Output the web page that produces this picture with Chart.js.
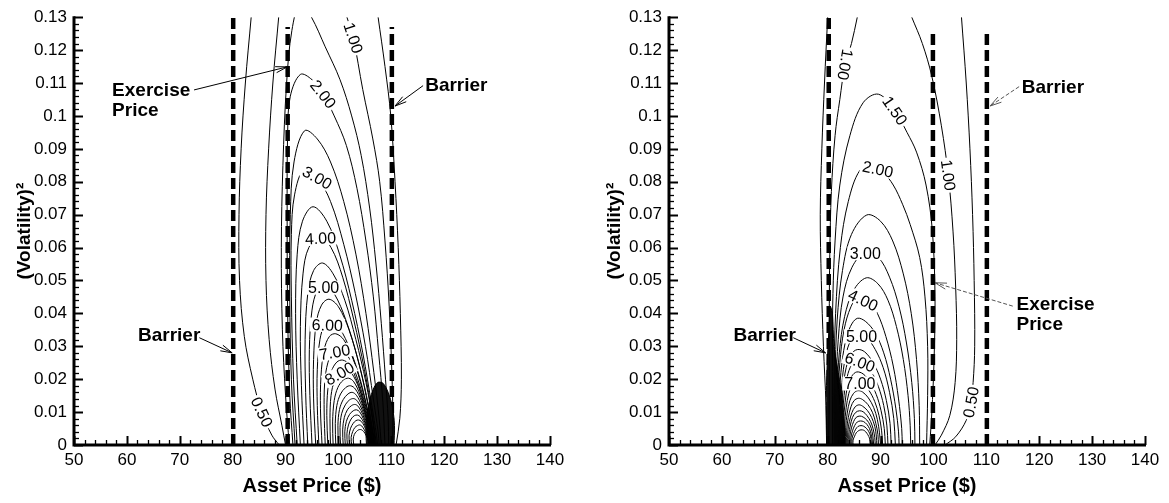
<!DOCTYPE html>
<html>
<head>
<meta charset="utf-8">
<script src="https://cdn.jsdelivr.net/npm/chart.js@4.4.0/dist/chart.umd.min.js"></script>
<style>
  html, body { margin: 0; padding: 0; background: #fff; }
  #wrap { position: relative; width: 1169px; height: 503px; }
  #left { position: absolute; left: 0; top: 0; }
  #right { position: absolute; left: 585px; top: 0; }
</style>
</head>
<body>
<div id="wrap">
  <canvas id="left" width="585" height="503"></canvas>
  <canvas id="right" width="584" height="503"></canvas>
</div>
<script>
// ---- axes ----
const xTickValues = [50, 60, 70, 80, 90, 100, 110, 120, 130, 140];
const yTickValues = [0, 0.01, 0.02, 0.03, 0.04, 0.05, 0.06, 0.07, 0.08, 0.09, 0.1, 0.11, 0.12, 0.13];

// ---- left panel: contour lines [asset price, volatility^2] ----
const L050a = [[83.5,0.130],[82.4,0.110],[81.6,0.090],[81.2,0.070],[81.3,0.050],[82.2,0.033],[83.8,0.020],[85.5,0.010],[87.4,0.003],[88.8,0]];
const L050b = [[107.5,0.130],[108.8,0.115],[109.9,0.100],[110.7,0.080],[111.3,0.060],[111.7,0.040],[111.9,0.020],[111.6,0.008],[110.9,0]];
const L100a = [[88.7,0.130],[87.6,0.110],[86.8,0.090],[86.3,0.070],[86.3,0.050],[86.9,0.032],[88.0,0.017],[89.3,0.006],[90.0,0]];
const L100b = [[101.6,0.130],[102.8,0.1237],[104.6,0.108],[106.5,0.093],[107.8,0.080],[108.8,0.062],[109.6,0.042],[110.1,0.022],[110.3,0.008],[110.2,0]];
const L150 = [[90.7,0],[90.0,0.015],[89.4,0.035],[89.2,0.060],[89.5,0.085],[90.2,0.110],[91.2,0.126],[92.8,0.1345],[94.9,0.130],[97.5,0.121],[100.3,0.111],[102.5,0.100],[104.3,0.088],[105.9,0.072],[107.1,0.055],[108.1,0.037],[108.9,0.020],[109.4,0.008],[109.5,0]];
const L200 = [[91.4,0],[90.8,0.015],[90.4,0.040],[90.3,0.070],[90.4,0.095],[90.9,0.106],[92.8,0.1126],[95.0,0.111],[97.1,0.1066],[99.2,0.100],[101.5,0.091],[103.5,0.078],[105.2,0.062],[106.6,0.045],[107.6,0.028],[108.4,0.013],[108.8,0]];
const L250 = [[91.8,0],[91.1,0.020],[90.8,0.045],[90.9,0.070],[91.6,0.086],[93.6,0.0955],[96.0,0.093],[98.5,0.086],[101.0,0.074],[103.3,0.058],[105.2,0.040],[106.7,0.022],[107.7,0.008],[108.1,0]];
const L300 = [[92.2,0],[91.5,0.020],[91.1,0.045],[91.1,0.064],[91.7,0.076],[93.5,0.0838],[96.0,0.0812],[98.5,0.074],[101.0,0.061],[103.2,0.046],[105.1,0.030],[106.6,0.014],[107.5,0.004],[107.7,0]];
const L350 = [[92.8,0],[92.2,0.020],[91.9,0.040],[92.2,0.058],[93.2,0.068],[95.2,0.0724],[97.8,0.068],[100.2,0.058],[102.5,0.044],[104.6,0.028],[106.3,0.012],[107.2,0.003],[107.4,0]];
const L400 = [[93.5,0],[93.0,0.018],[92.8,0.036],[93.3,0.052],[94.4,0.060],[96.6,0.0630],[98.6,0.060],[100.8,0.051],[102.9,0.038],[104.9,0.023],[106.4,0.009],[107.2,0]];
const L450 = [[94.2,0],[93.8,0.016],[93.7,0.032],[94.2,0.046],[95.3,0.053],[97.0,0.0553],[99.0,0.052],[101.2,0.044],[103.3,0.032],[105.2,0.019],[106.5,0.007],[107.0,0]];
const L500 = [[95.0,0],[94.6,0.015],[94.5,0.029],[95.0,0.041],[96.0,0.047],[97.4,0.0487],[99.2,0.046],[101.4,0.038],[103.5,0.027],[105.3,0.015],[106.4,0.005],[106.9,0]];
const L550 = [[95.7,0],[95.3,0.014],[95.3,0.026],[95.8,0.037],[96.8,0.0425],[98.2,0.0443],[100.0,0.042],[102.0,0.035],[104.0,0.024],[105.6,0.012],[106.5,0.004],[106.8,0]];
const L600 = [[96.3,0],[96.0,0.012],[96.0,0.023],[96.5,0.032],[97.4,0.0365],[98.6,0.0375],[100.2,0.0355],[102.2,0.029],[104.1,0.020],[105.6,0.010],[106.5,0.003],[106.7,0]];
const L650 = [[96.9,0],[96.6,0.011],[96.7,0.021],[97.3,0.029],[98.3,0.033],[99.5,0.0338],[101.0,0.032],[102.8,0.026],[104.5,0.017],[105.8,0.008],[106.6,0]];
const L700 = [[97.5,0],[97.3,0.010],[97.4,0.019],[98.0,0.025],[99.0,0.0283],[100.2,0.0290],[101.6,0.0275],[103.2,0.022],[104.7,0.0145],[105.9,0.0065],[106.5,0]];
const L750 = [[98.0,0],[97.8,0.009],[98.0,0.017],[98.7,0.0225],[99.7,0.0252],[100.8,0.0258],[102.0,0.0245],[103.5,0.0195],[104.9,0.0125],[105.9,0.0055],[106.4,0]];
const L800 = [[98.5,0],[98.4,0.008],[98.6,0.015],[99.3,0.0198],[100.3,0.0222],[101.4,0.0230],[102.5,0.0218],[103.9,0.0172],[105.0,0.0110],[105.9,0.0048],[106.3,0]];
const L850 = [[99.0,0],[98.9,0.007],[99.2,0.0135],[99.9,0.0175],[100.9,0.0197],[101.9,0.0203],[102.9,0.0192],[104.1,0.0152],[105.1,0.0098],[105.9,0.0042],[106.2,0]];
const L900 = [[99.5,0],[99.4,0.0065],[99.7,0.012],[100.4,0.0155],[101.4,0.0175],[102.3,0.0180],[103.2,0.0170],[104.3,0.0135],[105.2,0.0087],[105.9,0.0037],[106.2,0]];
const L950 = [[100.0,0],[99.9,0.006],[100.2,0.0108],[100.9,0.0138],[101.8,0.0155],[102.6,0.0160],[103.4,0.0151],[104.4,0.012],[105.3,0.0077],[105.9,0.0033],[106.1,0]];
const L1000 = [[100.4,0],[100.3,0.0053],[100.6,0.0095],[101.3,0.0122],[102.1,0.0137],[102.9,0.0141],[103.6,0.0133],[104.5,0.0106],[105.3,0.0068],[105.9,0.0029],[106.1,0]];
const L1050 = [[100.9,0],[100.8,0.0046],[101.1,0.0083],[101.7,0.0107],[102.5,0.0120],[103.2,0.0123],[103.8,0.0116],[104.6,0.0093],[105.3,0.0059],[105.9,0.0025],[106.0,0]];
const L1100 = [[101.3,0],[101.2,0.0040],[101.5,0.0072],[102.1,0.0093],[102.8,0.0104],[103.4,0.0107],[104.0,0.0101],[104.7,0.0080],[105.4,0.0051],[105.9,0.0021],[106.0,0]];
const L1150 = [[101.7,0],[101.6,0.0034],[101.9,0.0061],[102.4,0.0079],[103.0,0.0089],[103.6,0.0091],[104.1,0.0086],[104.8,0.0068],[105.4,0.0043],[105.8,0.0018],[105.9,0]];
const L1200 = [[102.1,0],[102.0,0.0028],[102.3,0.0051],[102.8,0.0066],[103.3,0.0074],[103.8,0.0076],[104.3,0.0072],[104.9,0.0057],[105.4,0.0036],[105.8,0.0015],[105.9,0]];
const L1250 = [[102.5,0],[102.4,0.0023],[102.7,0.0041],[103.1,0.0053],[103.6,0.0059],[104.0,0.0061],[104.4,0.0058],[104.9,0.0046],[105.4,0.0029],[105.7,0.0012],[105.8,0]];
const L1300 = [[102.9,0],[102.8,0.0018],[103.0,0.0032],[103.4,0.0041],[103.8,0.0046],[104.2,0.0047],[104.5,0.0045],[105.0,0.0036],[105.4,0.0022],[105.7,0.0009],[105.8,0]];
// densely packed contours near the upper barrier
const LDense = [[105.3,0],[105.2,0.004],[105.4,0.009],[105.9,0.0135],[106.6,0.017],[107.4,0.019],[108.4,0.0188],[109.4,0.016],[110.2,0.0115],[110.6,0.006],[110.5,0]];

const leftDashX = [80.1, 90.4, 110.1];
const leftDashTop = [0.13, 0.127, 0.127];

const leftLabelText = ['0.50', '1.00', '2.00', '3.00', '4.00', '5.00', '6.00', '7.00', '8.00'];
const leftLabelX = [85.5, 102.8, 97.1, 96.0, 96.6, 97.2, 97.9, 99.3, 100.2];
const leftLabelY = [0.010, 0.1237, 0.1066, 0.0812, 0.0628, 0.0478, 0.0364, 0.0282, 0.0217];

// ---- right panel ----
const R050a = [[80.0,0.130],[79.4,0.110],[78.9,0.090],[78.6,0.070],[78.8,0.050],[79.2,0.030],[79.7,0.012],[79.9,0]];
const R050b = [[105.3,0.130],[106.2,0.110],[106.9,0.090],[107.4,0.070],[107.7,0.050],[107.8,0.030],[107.5,0.019],[107.0,0.0125],[106.2,0.0075],[104.2,0.0025],[102.2,0]];
const R100a = [[85.6,0.130],[84.5,0.122],[83.3,0.1156],[82.3,0.105],[81.4,0.094],[80.7,0.077],[80.4,0.058],[80.3,0.038],[80.3,0.018],[80.2,0]];
const R100b = [[95.9,0.130],[97.9,0.122],[99.7,0.112],[101.5,0.097],[102.8,0.082],[103.7,0.065],[104.2,0.048],[104.4,0.032],[104.1,0.019],[103.1,0.009],[101.5,0.003],[100.3,0]];
const R150 = [[80.9,0],[80.9,0.030],[81.0,0.046],[81.4,0.062],[82.3,0.079],[84.2,0.094],[86.7,0.104],[89.6,0.1066],[92.7,0.1016],[95.0,0.095],[96.8,0.089],[98.6,0.079],[99.8,0.065],[100.3,0.045],[100.1,0.025],[99.7,0.010],[99.3,0]];
const R200 = [[81.2,0],[81.2,0.020],[81.5,0.040],[82.4,0.060],[83.9,0.074],[86.1,0.0835],[88.4,0.0848],[90.4,0.083],[92.4,0.079],[94.2,0.073],[95.6,0.067],[97.4,0.057],[98.4,0.045],[98.9,0.030],[98.9,0.015],[98.7,0]];
const R250 = [[81.4,0],[81.4,0.020],[81.8,0.038],[82.8,0.053],[84.5,0.064],[87.4,0.0699],[90.0,0.068],[92.3,0.062],[94.3,0.052],[95.8,0.040],[96.8,0.026],[97.3,0.012],[97.4,0]];
const R300 = [[81.6,0],[81.6,0.018],[82.0,0.032],[82.9,0.045],[84.6,0.054],[87.2,0.0588],[89.6,0.057],[91.7,0.051],[93.5,0.042],[94.9,0.031],[95.9,0.019],[96.4,0.008],[96.5,0]];
const R350 = [[81.8,0],[81.8,0.016],[82.2,0.028],[83.2,0.039],[84.9,0.047],[87.3,0.0508],[89.5,0.049],[91.4,0.044],[93.0,0.036],[94.3,0.026],[95.2,0.015],[95.6,0.006],[95.7,0]];
const R400 = [[82.0,0],[82.0,0.014],[82.3,0.025],[83.1,0.035],[84.4,0.042],[86.0,0.0455],[87.5,0.0445],[89.4,0.040],[91.0,0.033],[92.4,0.024],[93.4,0.014],[94.0,0.005],[94.1,0]];
const R450 = [[82.2,0],[82.2,0.012],[82.5,0.022],[83.3,0.031],[84.3,0.036],[85.6,0.0385],[87.2,0.0375],[89.0,0.034],[90.6,0.028],[91.9,0.020],[92.9,0.011],[93.4,0.004],[93.5,0]];
const R500 = [[82.4,0],[82.4,0.010],[82.7,0.019],[83.4,0.027],[84.4,0.0318],[85.8,0.0335],[87.3,0.0327],[89.0,0.029],[90.5,0.0235],[91.7,0.016],[92.5,0.008],[92.8,0]];
const R550 = [[82.6,0],[82.6,0.009],[82.9,0.017],[83.5,0.0235],[84.4,0.0275],[85.6,0.0290],[87.0,0.0283],[88.6,0.025],[90.0,0.020],[91.1,0.0135],[91.8,0.0065],[92.0,0]];
const R600 = [[82.8,0],[82.8,0.008],[83.1,0.015],[83.7,0.0208],[84.5,0.0243],[85.5,0.0257],[86.8,0.0250],[88.3,0.0222],[89.6,0.0177],[90.6,0.012],[91.2,0.0058],[91.4,0]];
const R650 = [[83.0,0],[83.0,0.007],[83.3,0.013],[83.8,0.018],[84.6,0.021],[85.5,0.0222],[86.7,0.0216],[88.0,0.0192],[89.2,0.0153],[90.1,0.0104],[90.7,0.005],[90.9,0]];
const R700 = [[83.2,0],[83.2,0.006],[83.5,0.0113],[84.0,0.0157],[84.7,0.0182],[85.6,0.0192],[86.6,0.0187],[87.8,0.0166],[88.9,0.0132],[89.7,0.009],[90.2,0.0043],[90.4,0]];
const R750 = [[83.4,0],[83.4,0.0052],[83.7,0.0097],[84.2,0.0135],[84.9,0.0157],[85.7,0.0165],[86.6,0.0161],[87.7,0.0143],[88.7,0.0114],[89.4,0.0077],[89.8,0.0037],[90.0,0]];
const R800 = [[83.6,0],[83.6,0.0045],[83.9,0.0083],[84.4,0.0116],[85.0,0.0135],[85.8,0.0142],[86.6,0.0138],[87.6,0.0123],[88.5,0.0098],[89.1,0.0066],[89.5,0.0032],[89.6,0]];
const R850 = [[83.8,0],[83.8,0.0039],[84.1,0.0071],[84.6,0.0099],[85.2,0.0116],[85.9,0.0122],[86.6,0.0118],[87.5,0.0105],[88.3,0.0084],[88.9,0.0057],[89.2,0.0027],[89.3,0]];
const R900 = [[84.0,0],[84.0,0.0033],[84.3,0.0061],[84.7,0.0084],[85.3,0.0099],[86.0,0.0104],[86.7,0.0101],[87.4,0.0090],[88.1,0.0072],[88.6,0.0049],[88.9,0.0023],[89.0,0]];
const R950 = [[84.2,0],[84.2,0.0028],[84.5,0.0052],[84.9,0.0071],[85.4,0.0084],[86.1,0.0088],[86.7,0.0085],[87.4,0.0076],[88.0,0.0061],[88.4,0.0041],[88.6,0.0019],[88.7,0]];
const R1000 = [[84.4,0],[84.4,0.0023],[84.7,0.0043],[85.1,0.0059],[85.6,0.0070],[86.2,0.0073],[86.8,0.0071],[87.4,0.0063],[87.9,0.0050],[88.2,0.0034],[88.4,0.0016],[88.5,0]];
const R1050 = [[84.6,0],[84.6,0.0019],[84.9,0.0035],[85.3,0.0048],[85.7,0.0056],[86.3,0.0059],[86.8,0.0057],[87.3,0.0051],[87.8,0.0040],[88.1,0.0027],[88.2,0.0013],[88.3,0]];
const R1100 = [[84.8,0],[84.8,0.0015],[85.1,0.0027],[85.4,0.0037],[85.9,0.0044],[86.3,0.0046],[86.8,0.0045],[87.2,0.0040],[87.6,0.0031],[87.9,0.0021],[88.0,0.001],[88.1,0]];
const RDense = [[79.8,0],[79.7,0.012],[79.9,0.024],[80.2,0.034],[80.5,0.042],[80.9,0.040],[81.2,0.030],[81.8,0.024],[82.6,0.016],[83.1,0.008],[83.3,0]];

const rightDashX = [80.2, 99.9, 110.1];
const rightDashTop = [0.13, 0.126, 0.126];

const rightLabelText = ['1.00', '1.50', '2.00', '1.00', '3.00', '4.00', '5.00', '6.00', '7.00', '0.50'];
const rightLabelX = [83.3, 92.7, 89.5, 102.8, 87.1, 86.7, 86.4, 86.1, 86.1, 107.1];
const rightLabelY = [0.1156, 0.1016, 0.0838, 0.082, 0.0583, 0.0440, 0.0330, 0.0252, 0.0187, 0.0130];

// ---- presentation ----
const FONT = '"Liberation Sans", Arial, Helvetica, sans-serif';
Chart.defaults.font.family = FONT;
Chart.defaults.color = '#000';

const leftLabelRot = [65, 72, 52, 30, -3, 0, 2, -10, -30];
const rightLabelRot = [100, 55, 12, 82, 0, 25, 0, 20, 0, -80];

const leftNotes = [
  { lines: ['Exercise', 'Price'], x: 57.2, y: 0.1077, from: [72.7, 0.1079], to: [90.3, 0.1149] },
  { lines: ['Barrier'], x: 62.1, y: 0.0332, from: [73.7, 0.0326], to: [79.9, 0.0280] },
  { lines: ['Barrier'], x: 116.4, y: 0.1092, from: [116.0, 0.1092], to: [110.7, 0.1030] }
];
const rightNotes = [
  { lines: ['Barrier'], x: 62.2, y: 0.0332, from: [73.5, 0.0326], to: [79.6, 0.0280] },
  { lines: ['Barrier'], x: 116.7, y: 0.1086, from: [116.2, 0.1089], to: [110.7, 0.1030], light: true },
  { lines: ['Exercise', 'Price'], x: 115.7, y: 0.0425, from: [115.0, 0.0422], to: [100.3, 0.0493], light: true }
];

function lineSet(pts) {
  return { data: pts, showLine: true, pointRadius: 0, borderColor: '#000', borderWidth: 1, tension: 0.35, fill: false };
}
function denseSet(pts) {
  return { data: pts, showLine: true, pointRadius: 0, borderColor: '#000', borderWidth: 1,
           backgroundColor: '#111', fill: 'origin', tension: 0.3 };
}
function dashSets(xs, tops) {
  return xs.map((x, i) => ({
    data: [[x, 0], [x, tops[i]]], showLine: true, pointRadius: 0,
    borderColor: '#000', borderWidth: 4.5, borderDash: [11, 5], borderCapStyle: 'butt', fill: false
  }));
}

function drawArrow(ctx, x1, y1, x2, y2) {
  ctx.beginPath(); ctx.moveTo(x1, y1); ctx.lineTo(x2, y2); ctx.stroke();
  const ang = Math.atan2(y2 - y1, x2 - x1), L = 12, s = 0.26;
  ctx.setLineDash([]);
  ctx.beginPath();
  ctx.moveTo(x2 - L * Math.cos(ang - s), y2 - L * Math.sin(ang - s));
  ctx.lineTo(x2, y2);
  ctx.lineTo(x2 - L * Math.cos(ang + s), y2 - L * Math.sin(ang + s));
  ctx.stroke();
}

function overlay(labelText, labelX, labelY, labelRot, notes) {
  return {
    id: 'overlay',
    afterDatasetsDraw(chart) {
      const { ctx, scales: { x, y } } = chart;
      ctx.save();
      // contour level labels
      ctx.font = '16px ' + FONT;
      ctx.textAlign = 'center';
      ctx.textBaseline = 'middle';
      labelText.forEach((t, i) => {
        ctx.save();
        ctx.translate(x.getPixelForValue(labelX[i]), y.getPixelForValue(labelY[i]));
        ctx.rotate(labelRot[i] * Math.PI / 180);
        const w = ctx.measureText(t).width;
        ctx.fillStyle = '#fff';
        ctx.fillRect(-w / 2 - 2, -7, w + 4, 14);
        ctx.fillStyle = '#000';
        ctx.fillText(t, 0, 1);
        ctx.restore();
      });
      // annotations
      ctx.font = 'bold 19px ' + FONT;
      ctx.textAlign = 'left';
      notes.forEach(n => {
        const tx = x.getPixelForValue(n.x), ty = y.getPixelForValue(n.y);
        ctx.fillStyle = '#000';
        n.lines.forEach((l, k) => ctx.fillText(l, tx, ty + k * 20));
        ctx.strokeStyle = n.light ? '#555' : '#000';
        ctx.lineWidth = 1;
        ctx.setLineDash(n.light ? [4, 2] : []);
        drawArrow(ctx, x.getPixelForValue(n.from[0]), y.getPixelForValue(n.from[1]),
                       x.getPixelForValue(n.to[0]), y.getPixelForValue(n.to[1]));
        ctx.setLineDash([]);
      });
      ctx.restore();
    },
    afterDraw(chart) {
      // axis lines with inward tick marks
      const { ctx, chartArea: a, scales: { x, y } } = chart;
      ctx.save();
      ctx.strokeStyle = '#000';
      ctx.lineWidth = 3;
      ctx.beginPath();
      ctx.moveTo(a.left, a.top - 1);
      ctx.lineTo(a.left, a.bottom + 1.5);
      ctx.moveTo(a.left - 1.5, a.bottom);
      ctx.lineTo(a.right + 1, a.bottom);
      ctx.stroke();
      for (let i = 0; i <= 45; i++) {
        const px = Math.round(x.getPixelForValue(50 + 2 * i)) + 0.5;
        const major = i % 5 === 0;
        ctx.lineWidth = major ? 2 : 1.3;
        ctx.beginPath();
        ctx.moveTo(px, a.bottom);
        ctx.lineTo(px, a.bottom - (major ? 9 : 5));
        ctx.stroke();
      }
      for (let i = 0; i <= 65; i++) {
        const py = Math.round(y.getPixelForValue(i * 0.002)) + 0.5;
        const major = i % 5 === 0;
        ctx.lineWidth = major ? 2 : 1.3;
        ctx.beginPath();
        ctx.moveTo(a.left, py);
        ctx.lineTo(a.left + (major ? 9 : 5), py);
        ctx.stroke();
      }
      ctx.restore();
    }
  };
}

function makeChart(id, contours, dense, dashX, dashTop, yAxisWidth, rightPad, yTitlePad, plugin) {
  const datasets = contours.map(lineSet).concat([denseSet(dense)], dashSets(dashX, dashTop));
  return new Chart(document.getElementById(id), {
    type: 'scatter',
    data: { datasets },
    options: {
      responsive: false,
      animation: false,
      events: [],
      layout: { padding: { top: 14, right: rightPad, left: 0, bottom: 0 } },
      plugins: { legend: { display: false }, tooltip: { enabled: false } },
      scales: {
        x: {
          type: 'linear', min: 50, max: 140,
          afterBuildTicks: s => { s.ticks = xTickValues.map(v => ({ value: v })); },
          afterFit: s => { s.height = 58; },
          grid: { display: false, drawTicks: false },
          border: { display: false },
          ticks: { autoSkip: false, maxRotation: 0, padding: 5, font: { size: 17 }, color: '#000' },
          title: { display: true, text: 'Asset Price ($)', color: '#000',
                   font: { size: 20, weight: 'bold' }, padding: { top: 0, bottom: 5 } }
        },
        y: {
          type: 'linear', min: 0, max: 0.13,
          afterBuildTicks: s => { s.ticks = yTickValues.map(v => ({ value: v })); },
          afterFit: s => { s.width = yAxisWidth; },
          grid: { display: false, drawTicks: false },
          border: { display: false },
          ticks: { autoSkip: false, padding: 7, font: { size: 17 }, color: '#000',
                   callback: v => String(+v.toFixed(2)) },
          title: { display: true, text: '(Volatility)²', color: '#000',
                   font: { size: 19, weight: 'bold' }, padding: { top: yTitlePad, bottom: 0 } }
        }
      }
    },
    plugins: [plugin]
  });
}

makeChart('left',
  [L050a, L050b, L100a, L100b, L150, L200, L250, L300, L350, L400, L450, L500, L550, L600, L650,
   L700, L750, L800, L850, L900, L950, L1000, L1050, L1100, L1150, L1200, L1250, L1300],
  LDense, leftDashX, leftDashTop, 74, 35, 13,
  overlay(leftLabelText, leftLabelX, leftLabelY, leftLabelRot, leftNotes));

makeChart('right',
  [R050a, R050b, R100a, R100b, R150, R200, R250, R300, R350, R400, R450, R500, R550, R600, R650,
   R700, R750, R800, R850, R900, R950, R1000, R1050, R1100],
  RDense, rightDashX, rightDashTop, 84, 24, 18,
  overlay(rightLabelText, rightLabelX, rightLabelY, rightLabelRot, rightNotes));
</script>
</body>
</html>
